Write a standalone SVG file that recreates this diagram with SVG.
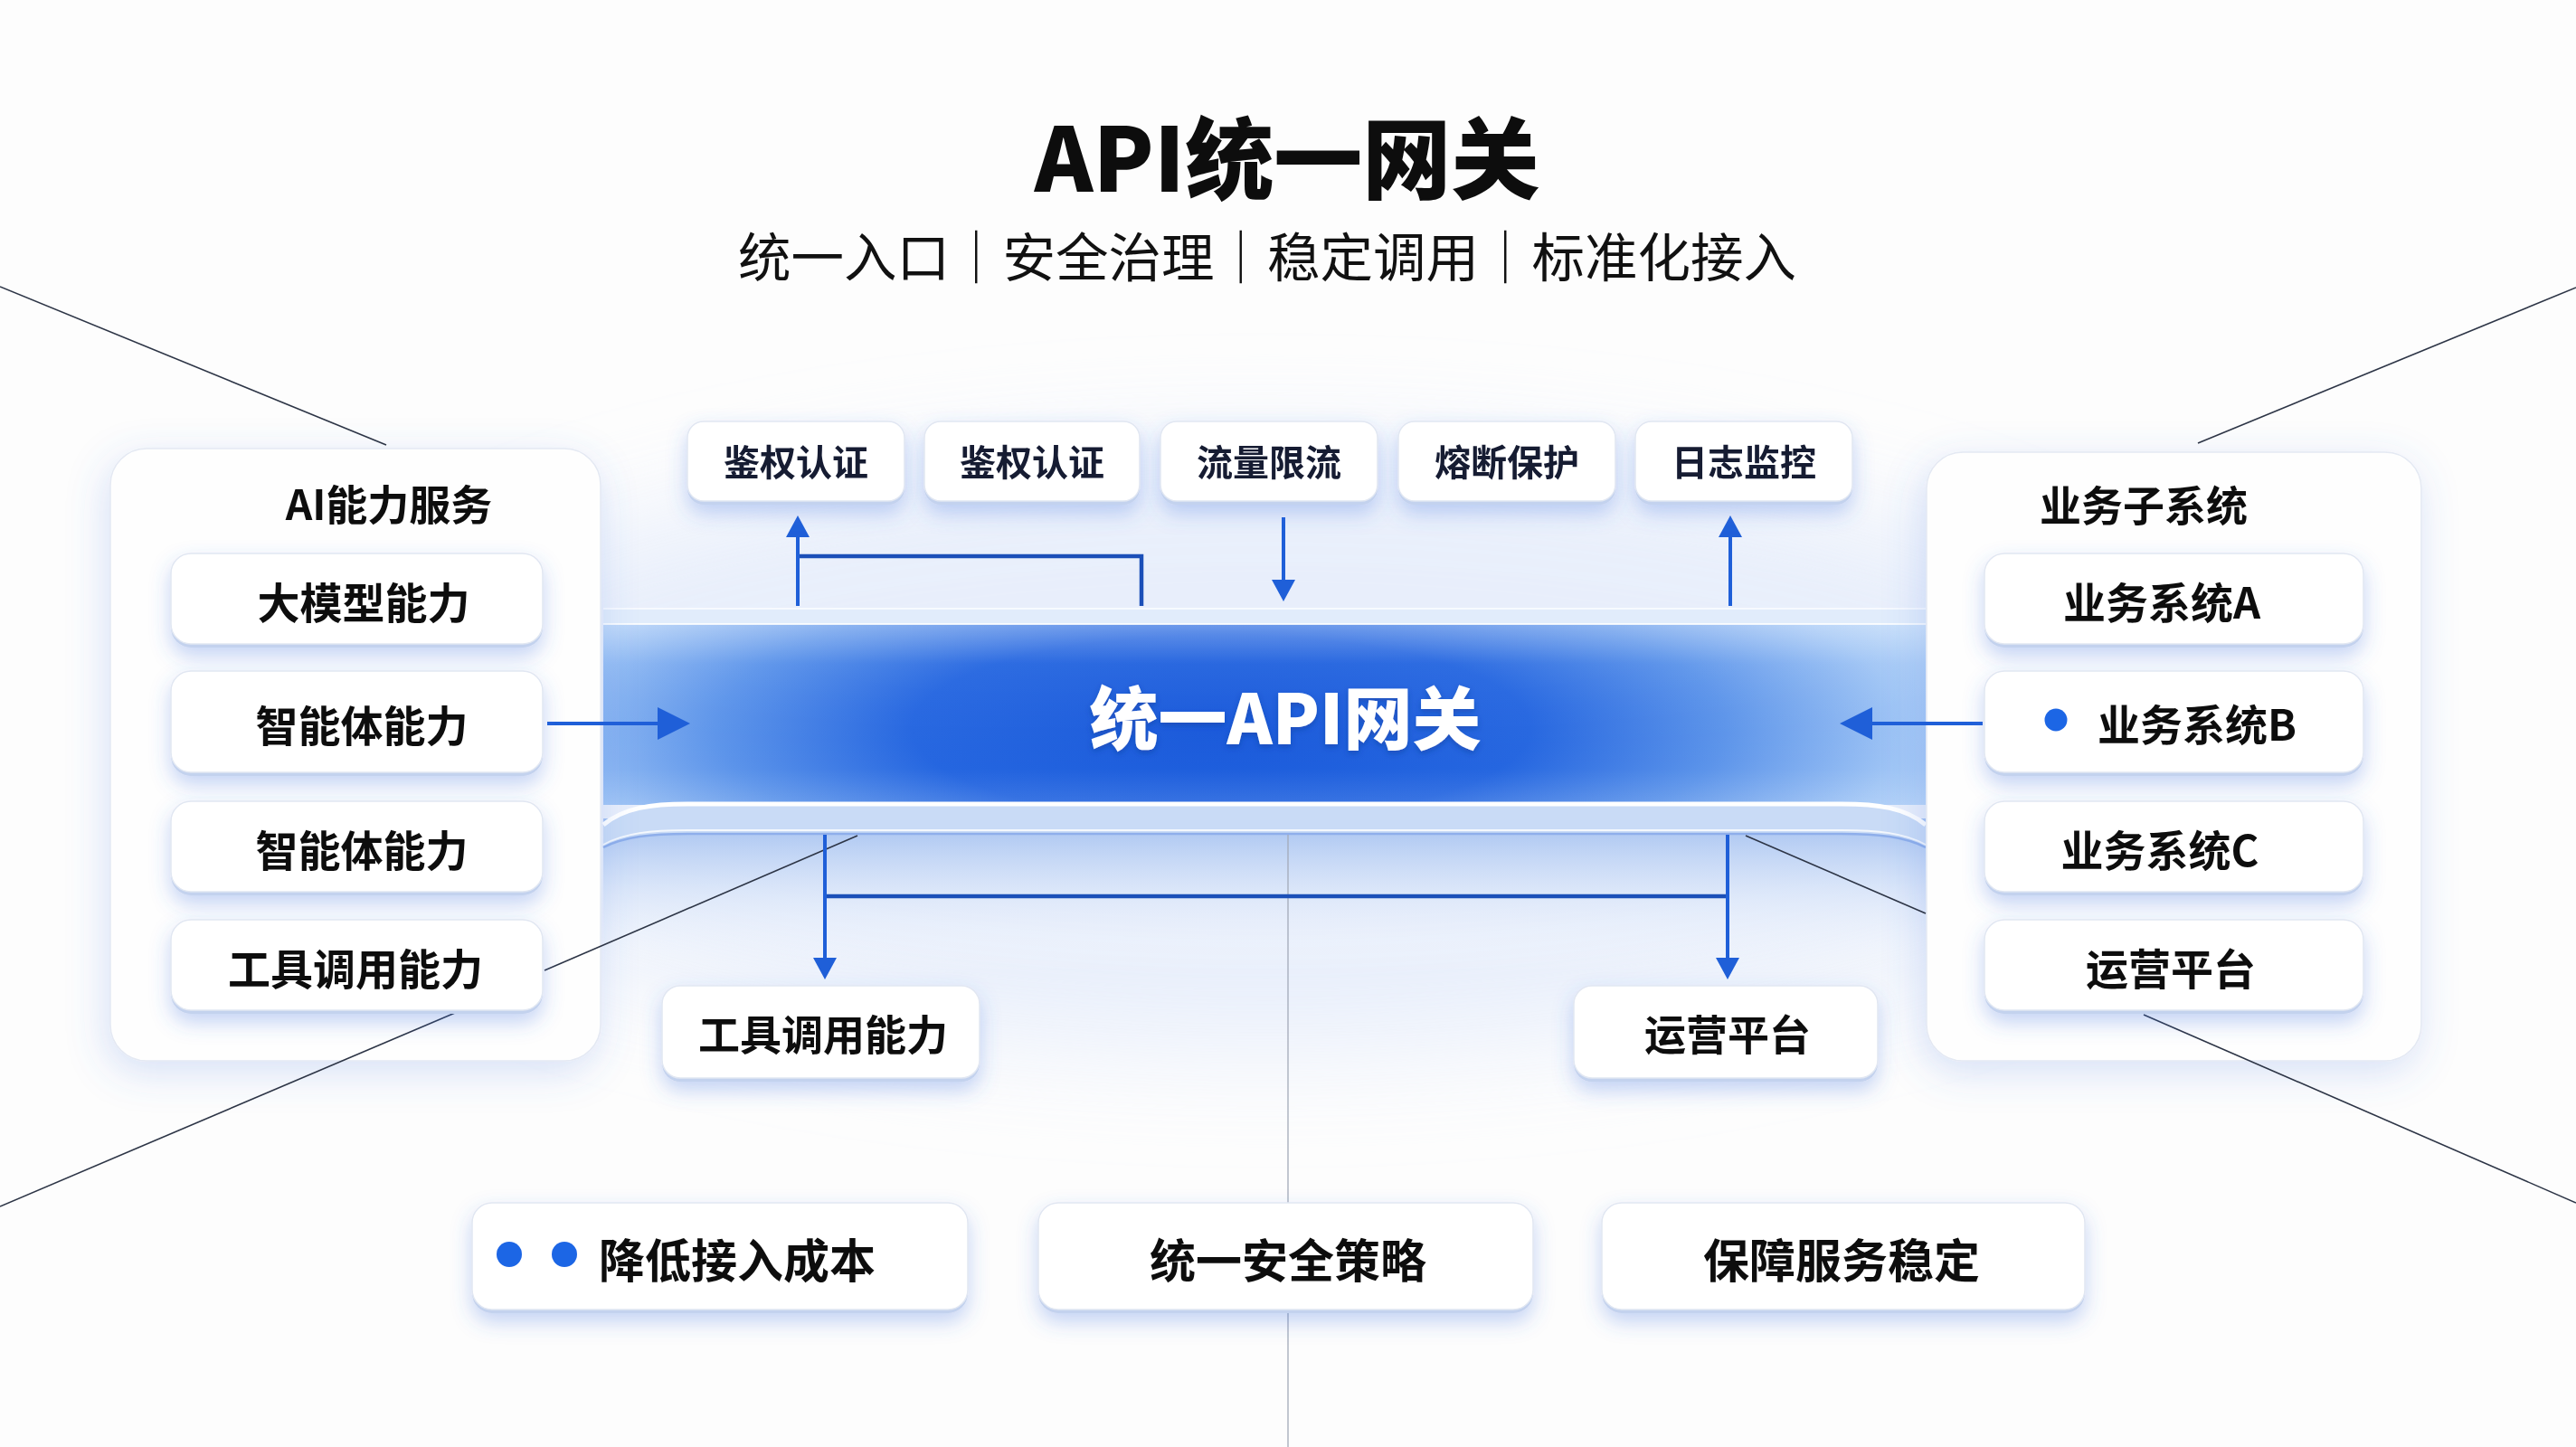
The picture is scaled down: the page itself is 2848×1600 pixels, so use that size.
<svg xmlns="http://www.w3.org/2000/svg" width="2848" height="1600" viewBox="0 0 2848 1600">
<defs>
  <style>
    .t{font-family:'Noto Sans CJK SC','Noto Sans',sans-serif;font-weight:700;fill:#111;text-anchor:middle;dominant-baseline:central}
    .tt{fill:#141a33}
    .ttl{font-weight:900;fill:#0d0d0d;dominant-baseline:alphabetic}
    .sub{font-weight:400;fill:#111;dominant-baseline:alphabetic}
    .gw{font-weight:900;fill:#ffffff}
    .card{fill:#ffffff;stroke:#e1e7f2;stroke-width:1.5}
    .lip{fill:#c3d2ee}
    .cont{fill:#fefefe;stroke:#e4e9f3;stroke-width:1.5}
    .diag{stroke:#2d3546;stroke-width:1.6;fill:none}
    .vline{stroke:#a3aab8;stroke-width:1.3;fill:none}
    .conn{stroke:#1b4fb8;stroke-width:4.5;fill:none}
    .arr{stroke:#1f5fd8;stroke-width:4;fill:none}
    .dot{fill:#1f66e5}
  </style>
  <filter id="sh" x="-20%" y="-30%" width="140%" height="190%">
    <feDropShadow dx="0" dy="10" stdDeviation="11" flood-color="#3d72e0" flood-opacity="0.30"/>
  </filter>
  <filter id="shBig" x="-20%" y="-15%" width="140%" height="135%">
    <feDropShadow dx="-4" dy="12" stdDeviation="22" flood-color="#4a7de0" flood-opacity="0.22"/>
  </filter>
  <filter id="blur" x="-50%" y="-50%" width="200%" height="200%">
    <feGaussianBlur stdDeviation="60"/>
  </filter>
  <filter id="tsh" x="-10%" y="-20%" width="120%" height="140%">
    <feDropShadow dx="0" dy="3" stdDeviation="3" flood-color="#0b3a9a" flood-opacity="0.5"/>
  </filter>
  <radialGradient id="bandG" gradientUnits="userSpaceOnUse" cx="1350" cy="805" r="900" gradientTransform="translate(1350 805) scale(1 0.3) translate(-1350 -805)">
    <stop offset="0" stop-color="#1858da"/>
    <stop offset="0.38" stop-color="#2566e0"/>
    <stop offset="0.62" stop-color="#5c94ea"/>
    <stop offset="0.84" stop-color="#a0c5f5"/>
    <stop offset="1" stop-color="#c4ddf9"/>
  </radialGradient>
  <linearGradient id="bandV" x1="0" y1="0" x2="0" y2="1">
    <stop offset="0" stop-color="#ffffff" stop-opacity="0.3"/>
    <stop offset="0.22" stop-color="#ffffff" stop-opacity="0.04"/>
    <stop offset="0.8" stop-color="#ffffff" stop-opacity="0"/>
    <stop offset="1" stop-color="#ffffff" stop-opacity="0.1"/>
  </linearGradient>
  <linearGradient id="panelG" x1="0" y1="0" x2="0" y2="1">
    <stop offset="0" stop-color="#9cbcef" stop-opacity="0.9"/>
    <stop offset="0.45" stop-color="#d3e1f8" stop-opacity="0.7"/>
    <stop offset="1" stop-color="#ffffff" stop-opacity="0"/>
  </linearGradient>
  <marker id="ah" markerUnits="userSpaceOnUse" markerWidth="24" markerHeight="26" viewBox="0 0 24 26" refX="12" refY="13" orient="auto">
    <path d="M0,0 L24,13 L0,26 Z" fill="#1f5fd8"/>
  </marker>
  <marker id="ahB" markerUnits="userSpaceOnUse" markerWidth="36" markerHeight="36" viewBox="0 0 36 36" refX="20" refY="18" orient="auto">
    <path d="M0,0 L36,18 L0,36 Z" fill="#1f5fd8"/>
  </marker>
</defs>

<rect width="2848" height="1600" fill="#fdfdfd"/>
<ellipse cx="1400" cy="830" rx="1050" ry="330" fill="#e3ebfb" opacity="0.8" filter="url(#blur)"/>

<g id="title">
  <text class="t ttl" x="1423" y="212" font-size="98">API统一网关</text>
  <text class="t sub" x="1401" y="306" font-size="58.5">统一入口｜安全治理｜稳定调用｜标准化接入</text>
</g>

<g id="gateway">
  <rect x="667" y="905" width="1462" height="170" fill="url(#panelG)"/>
  <rect x="667" y="672" width="1462" height="18" fill="#e1ecfb"/>
  <line x1="667" y1="673" x2="2129" y2="673" stroke="#f7faff" stroke-width="2"/>
  <rect x="667" y="690" width="1462" height="200" fill="url(#bandG)"/>
  <rect x="667" y="690" width="1462" height="200" fill="url(#bandV)"/>
  <line x1="667" y1="690" x2="2129" y2="690" stroke="#ffffff" stroke-width="2" opacity="0.85"/>
  <path d="M667,912 C690,893 720,889 760,889 L2036,889 C2076,889 2106,893 2129,912 L2129,937 C2106,925 2076,922 2036,922 L760,922 C720,922 690,925 667,937 Z" fill="#c9dbf6"/>
  <path d="M667,912 C690,893 720,889 760,889 L2036,889 C2076,889 2106,893 2129,912" fill="none" stroke="#ffffff" stroke-width="5"/>
  <path d="M667,937 C690,925 720,922 760,922 L2036,922 C2076,922 2106,925 2129,937" fill="none" stroke="#8eaeea" stroke-width="2.5"/>
  <path d="M667,934 C690,921 720,918 760,918 L2036,918 C2076,918 2106,921 2129,934" fill="none" stroke="#ffffff" stroke-width="2" opacity="0.8"/>
  <text class="t gw" x="1421" y="790" font-size="76" filter="url(#tsh)">统一API网关</text>
</g>

<g id="ai-services" filter="url(#shBig)">
  <rect class="cont" x="122" y="496" width="542" height="677" rx="40"/>
  <text class="t" x="430" y="555" font-size="46">AI能力服务</text>
</g>

<g id="biz-systems" filter="url(#shBig)">
  <rect class="cont" x="2130" y="500" width="547" height="673" rx="40"/>
  <text class="t" x="2370" y="556" font-size="46">业务子系统</text>
</g>

<g id="connectors">
  <line class="diag" x1="0" y1="317" x2="427" y2="492"/>
  <line class="diag" x1="2430" y1="490" x2="2848" y2="318"/>
  <line class="diag" x1="0" y1="1334" x2="503" y2="1120"/>
  <line class="diag" x1="2370" y1="1122" x2="2848" y2="1330"/>
  <line class="diag" x1="602" y1="1073" x2="948" y2="924"/>
  <line class="diag" x1="1930" y1="924" x2="2129" y2="1010"/>
  <line class="vline" x1="1424" y1="923" x2="1424" y2="1600"/>
  <path class="conn" d="M882,615 L1262,615 L1262,670"/>
  <path class="arr" d="M882,670 L882,582" marker-end="url(#ah)"/>
  <path class="arr" d="M1419,572 L1419,653" marker-end="url(#ah)"/>
  <path class="arr" d="M1913,670 L1913,582" marker-end="url(#ah)"/>
  <path class="conn" d="M912,991 L1910,991"/>
  <path class="arr" d="M912,923 L912,1071" marker-end="url(#ah)"/>
  <path class="arr" d="M1910,923 L1910,1071" marker-end="url(#ah)"/>
  <path class="arr" d="M605,800 L747,800" stroke-width="5" marker-end="url(#ahB)"/>
  <path class="arr" d="M2192,800 L2050,800" stroke-width="5" marker-end="url(#ahB)"/>
</g>

<g id="top-auth1" filter="url(#sh)">
  <rect class="lip" x="760" y="470" width="240" height="88" rx="18"/>
  <rect class="card" x="760" y="466" width="240" height="88" rx="18"/>
  <text class="t tt" x="880" y="509" font-size="40">鉴权认证</text>
</g>
<g id="top-auth2" filter="url(#sh)">
  <rect class="lip" x="1022" y="470" width="238" height="88" rx="18"/>
  <rect class="card" x="1022" y="466" width="238" height="88" rx="18"/>
  <text class="t tt" x="1141" y="509" font-size="40">鉴权认证</text>
</g>
<g id="top-ratelimit" filter="url(#sh)">
  <rect class="lip" x="1283" y="470" width="240" height="88" rx="18"/>
  <rect class="card" x="1283" y="466" width="240" height="88" rx="18"/>
  <text class="t tt" x="1403" y="509" font-size="40">流量限流</text>
</g>
<g id="top-breaker" filter="url(#sh)">
  <rect class="lip" x="1546" y="470" width="240" height="88" rx="18"/>
  <rect class="card" x="1546" y="466" width="240" height="88" rx="18"/>
  <text class="t tt" x="1666" y="509" font-size="40">熔断保护</text>
</g>
<g id="top-log" filter="url(#sh)">
  <rect class="lip" x="1808" y="470" width="240" height="88" rx="18"/>
  <rect class="card" x="1808" y="466" width="240" height="88" rx="18"/>
  <text class="t tt" x="1928" y="509" font-size="40">日志监控</text>
</g>

<g id="ai-llm" filter="url(#sh)">
  <rect class="lip" x="189" y="616" width="411" height="100" rx="22"/>
  <rect class="card" x="189" y="612" width="411" height="100" rx="22"/>
  <text class="t" x="402" y="663" font-size="47">大模型能力</text>
</g>
<g id="ai-agent1" filter="url(#sh)">
  <rect class="lip" x="189" y="746" width="411" height="112" rx="22"/>
  <rect class="card" x="189" y="742" width="411" height="112" rx="22"/>
  <text class="t" x="400" y="799" font-size="47">智能体能力</text>
</g>
<g id="ai-agent2" filter="url(#sh)">
  <rect class="lip" x="189" y="890" width="411" height="100" rx="22"/>
  <rect class="card" x="189" y="886" width="411" height="100" rx="22"/>
  <text class="t" x="400" y="937" font-size="47">智能体能力</text>
</g>
<g id="ai-tool" filter="url(#sh)">
  <rect class="lip" x="189" y="1021" width="411" height="100" rx="22"/>
  <rect class="card" x="189" y="1017" width="411" height="100" rx="22"/>
  <text class="t" x="393" y="1068" font-size="47">工具调用能力</text>
</g>

<g id="biz-a" filter="url(#sh)">
  <rect class="lip" x="2194" y="616" width="419" height="100" rx="22"/>
  <rect class="card" x="2194" y="612" width="419" height="100" rx="22"/>
  <text class="t" x="2390" y="663" font-size="47">业务系统A</text>
</g>
<g id="biz-b" filter="url(#sh)">
  <rect class="lip" x="2194" y="746" width="419" height="112" rx="22"/>
  <rect class="card" x="2194" y="742" width="419" height="112" rx="22"/>
  <circle class="dot" cx="2273" cy="796" r="12.5"/>
  <text class="t" x="2429" y="798" font-size="47">业务系统B</text>
</g>
<g id="biz-c" filter="url(#sh)">
  <rect class="lip" x="2194" y="890" width="419" height="100" rx="22"/>
  <rect class="card" x="2194" y="886" width="419" height="100" rx="22"/>
  <text class="t" x="2388" y="937" font-size="47">业务系统C</text>
</g>
<g id="biz-ops" filter="url(#sh)">
  <rect class="lip" x="2194" y="1021" width="419" height="100" rx="22"/>
  <rect class="card" x="2194" y="1017" width="419" height="100" rx="22"/>
  <text class="t" x="2400" y="1068" font-size="47">运营平台</text>
</g>

<g id="out-tool" filter="url(#sh)">
  <rect class="lip" x="732" y="1094" width="351" height="102" rx="20"/>
  <rect class="card" x="732" y="1090" width="351" height="102" rx="20"/>
  <text class="t" x="910" y="1141" font-size="46">工具调用能力</text>
</g>
<g id="out-ops" filter="url(#sh)">
  <rect class="lip" x="1740" y="1094" width="336" height="102" rx="20"/>
  <rect class="card" x="1740" y="1090" width="336" height="102" rx="20"/>
  <text class="t" x="1910" y="1141" font-size="46">运营平台</text>
</g>

<g id="benefit-cost" filter="url(#sh)">
  <rect class="lip" x="522" y="1334" width="548" height="118" rx="22"/>
  <rect class="card" x="522" y="1330" width="548" height="118" rx="22"/>
  <circle class="dot" cx="563" cy="1387" r="14"/>
  <circle class="dot" cx="624" cy="1387" r="14"/>
  <text class="t" x="815" y="1391" font-size="51">降低接入成本</text>
</g>
<g id="benefit-security" filter="url(#sh)">
  <rect class="lip" x="1148" y="1334" width="547" height="118" rx="22"/>
  <rect class="card" x="1148" y="1330" width="547" height="118" rx="22"/>
  <text class="t" x="1424" y="1391" font-size="51">统一安全策略</text>
</g>
<g id="benefit-stable" filter="url(#sh)">
  <rect class="lip" x="1771" y="1334" width="534" height="118" rx="22"/>
  <rect class="card" x="1771" y="1330" width="534" height="118" rx="22"/>
  <text class="t" x="2036" y="1391" font-size="51">保障服务稳定</text>
</g>
</svg>
